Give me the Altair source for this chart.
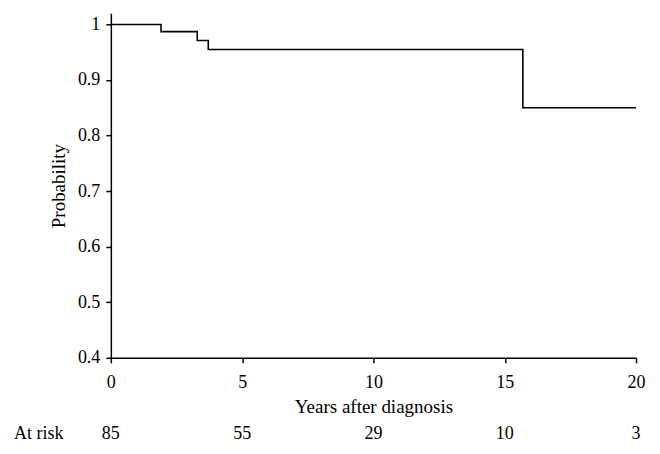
import altair as alt
import pandas as pd

# Kaplan-Meier step points
times = [0, 1.91, 3.29, 3.71, 15.69, 20]
probs = [1.0, 0.987, 0.971, 0.955, 0.85, 0.85]

# At-risk row
risk_times = [0, 5, 10, 15, 20]
risk_counts = ["85", "55", "29", "10", "3"]

x_ticks = [0, 5, 10, 15, 20]
y_ticks = [0.4, 0.5, 0.6, 0.7, 0.8, 0.9, 1.0]

FONT = "Liberation Serif"
FS = 18

km = pd.DataFrame({"t": times, "p": probs})
risk = pd.DataFrame({"t": risk_times, "n": risk_counts})

xscale = alt.Scale(domain=[0, 20], nice=False, zero=False)
yscale = alt.Scale(domain=[0.4, 1.02], nice=False, zero=False)

line = alt.Chart(km).mark_line(interpolate="step-after", color="black", strokeWidth=1.6).encode(
    x=alt.X("t:Q", scale=xscale,
            axis=alt.Axis(values=x_ticks, title="Years after diagnosis", grid=False,
                          labelFlush=False, labelOverlap=False,
                          domainColor="black", tickColor="black", domainWidth=1.5, tickWidth=1.5,
                          tickSize=5, labelPadding=11, labelFontSize=FS, labelFont=FONT,
                          labelColor="black", titleFont=FONT, titleFontSize=19,
                          titleFontWeight="normal", titleColor="black", titlePadding=6)),
    y=alt.Y("p:Q", scale=yscale,
            axis=alt.Axis(values=y_ticks, title="Probability", grid=False,
                          labelExpr="datum.value == 1 ? '1' : format(datum.value, '.1f')",
                          labelOverlap=False,
                          domainColor="black", tickColor="black", domainWidth=1.5, tickWidth=1.5,
                          tickSize=5, labelPadding=6, labelFontSize=FS, labelFont=FONT,
                          labelColor="black", titleFont=FONT, titleFontSize=19,
                          titleFontWeight="normal", titleColor="black", titlePadding=9)),
)

risk_text = alt.Chart(risk).mark_text(font=FONT, fontSize=FS, color="black", baseline="middle").encode(
    x=alt.X("t:Q", scale=xscale),
    y=alt.value(421),
    text="n:N",
)

label = alt.Chart(pd.DataFrame({"lab": ["At risk"]})).mark_text(
    font=FONT, fontSize=FS, color="black", align="left", baseline="middle"
).encode(
    x=alt.value(-97),
    y=alt.value(421),
    text="lab:N",
)

chart = alt.layer(line, risk_text, label).properties(
    width=526,
    height=345,
    autosize="none",
    padding={"left": 103, "top": 5, "right": 16, "bottom": 95},
).configure_view(stroke=None)

chart.save("out.html", embed_options={"renderer": "svg", "actions": False})
